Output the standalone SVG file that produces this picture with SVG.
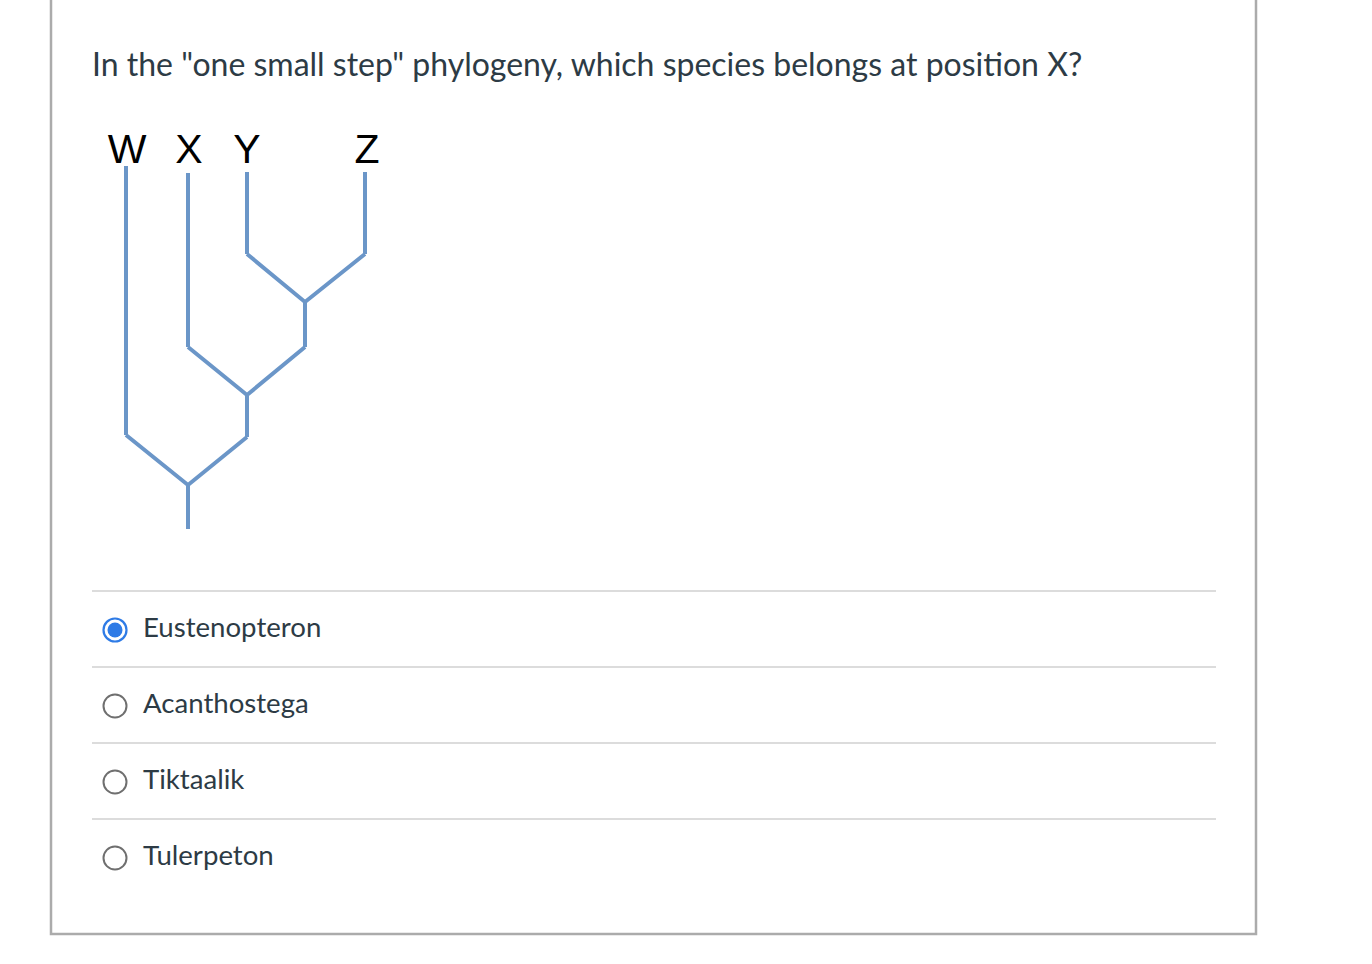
<svg xmlns="http://www.w3.org/2000/svg" width="1372" height="964" viewBox="0 0 1372 964">
<style>
.q{font-family:Lato,"Open Sans",sans-serif;fill:#2d3b45}
.lbl{font-family:"Liberation Sans",Arial,sans-serif;font-size:41px;fill:#000;text-anchor:middle}
.br{fill:none;stroke:#6b96c8;stroke-width:4;stroke-linejoin:miter}
.sep{stroke:#dcdcdc;stroke-width:2}
.rad{fill:none;stroke:#6f6f6f;stroke-width:2}
.opt{font-size:27.6px}
</style>
<rect width="1372" height="964" fill="#fff"/>
<path d="M51 0 V934 H1256 V0" fill="none" stroke="#ababab" stroke-width="2.5"/>
<text class="q" x="92" y="76" font-size="32">In the "one small step" phylogeny, which species belongs at position X?</text>
<g id="labels">
<text class="lbl" x="127" y="163">W</text>
<text class="lbl" x="189" y="163">X</text>
<text class="lbl" x="247" y="163">Y</text>
<text class="lbl" x="367" y="163">Z</text>
</g>
<g id="connectors">
<path class="br" d="M126 166 V435"/>
<path class="br" d="M188 173 V347"/>
<path class="br" d="M247 172 V254"/>
<path class="br" d="M365 172 V254"/>
<path class="br" d="M247 254 L305 302 L365 254"/>
<path class="br" d="M305 302 V347"/>
<path class="br" d="M188 347 L247 395 L305 347"/>
<path class="br" d="M247 395 V437"/>
<path class="br" d="M126 435 L188 485 L247 437"/>
<path class="br" d="M188 485 V529"/>
</g>
<g id="separators">
<line class="sep" x1="92" y1="591" x2="1216" y2="591"/>
<line class="sep" x1="92" y1="667" x2="1216" y2="667"/>
<line class="sep" x1="92" y1="743" x2="1216" y2="743"/>
<line class="sep" x1="92" y1="819" x2="1216" y2="819"/>
</g>
<g id="opt1">
<circle cx="115" cy="630" r="11.5" fill="none" stroke="#2e7be6" stroke-width="2.2"/>
<circle cx="115" cy="630" r="7.5" fill="#2e7be6"/>
<text class="q opt" x="143" y="637">Eustenopteron</text>
</g>
<g id="opt2">
<circle class="rad" cx="115" cy="706" r="11.5"/>
<text class="q opt" x="143" y="713">Acanthostega</text>
</g>
<g id="opt3">
<circle class="rad" cx="115" cy="782" r="11.5"/>
<text class="q opt" x="143" y="789">Tiktaalik</text>
</g>
<g id="opt4">
<circle class="rad" cx="115" cy="858" r="11.5"/>
<text class="q opt" x="143" y="865">Tulerpeton</text>
</g>
</svg>
